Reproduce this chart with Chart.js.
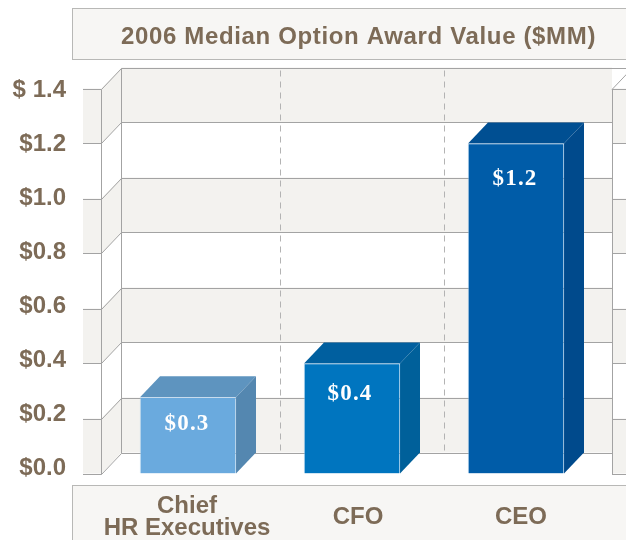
<!DOCTYPE html>
<html>
<head>
<meta charset="utf-8">
<style>
  html, body { margin: 0; padding: 0; background: #fff; }
  #wrap { width: 626px; height: 540px; }
</style>
<script src="https://cdn.jsdelivr.net/npm/chart.js@4"></script>
</head>
<body>
<div id="wrap"><canvas id="optionChart"></canvas></div>
<script>
const chartTitle = "2006 Median Option Award Value ($MM)";
const categories = [["Chief", "HR Executives"], "CFO", "CEO"];
const medianValues = [0.277, 0.4, 1.2];
const valueLabels = ["$0.3", "$0.4", "$1.2"];
const yTickValues = [0, 0.2, 0.4, 0.6, 0.8, 1.0, 1.2, 1.4];
const yTickLabels = ["$0.0", "$0.2", "$0.4", "$0.6", "$0.8", "$1.0", "$1.2", "$ 1.4"];
const frontColors = ["#6aaade", "#0075bf", "#005ca8"];
const topColors = ["#5e94bf", "#005f9f", "#004f92"];
const sideColors = ["#5487b0", "#00609a", "#004a8c"];

const depthX = 20;
const depthY = 21;
const wallRight = 612;
const textColor = "#7d6b57";
const lineColor = "#a3a3a3";
const bandColor = "#f3f2ef";
const panelColor = "#f7f6f4";
const sansBold = "bold 24px 'Liberation Sans', Arial, sans-serif";
// the captions and bar labels are not placed evenly in the original
const captionShift = [-1, 6, 5];
const labelShiftX = [-1, -2, -1];
const labelDrop = [33, 36, 41];

function poly(ctx, pts, fill) {
  ctx.beginPath();
  pts.forEach((p, i) => (i ? ctx.lineTo(p[0], p[1]) : ctx.moveTo(p[0], p[1])));
  ctx.closePath();
  ctx.fillStyle = fill;
  ctx.fill();
}

function seg(ctx, x0, y0, x1, y1) {
  ctx.beginPath();
  ctx.moveTo(x0, y0);
  ctx.lineTo(x1, y1);
  ctx.stroke();
}

const panelsPlugin = {
  id: "panels",
  afterLayout(chart) {
    chart.scales.x.getLabelItems(chart.chartArea).forEach((item, i) => {
      item.options.translation[0] += captionShift[i];
    });
  },
  beforeDraw(chart) {
    const ctx = chart.ctx;
    ctx.save();
    ctx.strokeStyle = "#b8b8b6";
    ctx.lineWidth = 1;
    ctx.fillStyle = panelColor;
    ctx.fillRect(72.5, 8.5, 560, 51);
    ctx.strokeRect(72.5, 8.5, 560, 51);
    ctx.fillRect(72.5, 485.5, 560, 70);
    ctx.strokeRect(72.5, 485.5, 560, 70);
    ctx.fillStyle = textColor;
    ctx.font = sansBold;
    ctx.textAlign = "center";
    ctx.textBaseline = "alphabetic";
    ctx.letterSpacing = "0.65px";
    ctx.fillText(chartTitle, 358.5, 44);
    ctx.restore();
  }
};

const wallsPlugin = {
  id: "walls",
  beforeDatasetsDraw(chart) {
    const ctx = chart.ctx;
    const y = chart.scales.y;
    const x = chart.scales.x;
    const frontLeft = 101.5;
    const backLeft = frontLeft + depthX;
    ctx.save();
    ctx.lineWidth = 1;

    // alternating bands: back wall, left wall, tick stubs, right wall
    for (let i = 0; i < yTickValues.length - 1; i += 2) {
      const top = y.getPixelForValue(yTickValues[yTickValues.length - 1 - i]);
      const bot = y.getPixelForValue(yTickValues[yTickValues.length - 2 - i]);
      ctx.fillStyle = bandColor;
      ctx.fillRect(backLeft, top - depthY, wallRight - backLeft, bot - top);
      ctx.fillRect(83, top, frontLeft - 83, bot - top);
      ctx.fillRect(wallRight, top, 20, bot - top);
      poly(ctx, [[frontLeft, top], [backLeft, top - depthY], [backLeft, bot - depthY], [frontLeft, bot]], bandColor);
    }

    ctx.strokeStyle = lineColor;
    yTickValues.forEach((v) => {
      const py = Math.round(y.getPixelForValue(v)) + 0.5;
      seg(ctx, frontLeft, py, backLeft, py - depthY);
      seg(ctx, backLeft, py - depthY, v === 1.4 ? 626 : wallRight, py - depthY);
      seg(ctx, 83, py, frontLeft, py);
      seg(ctx, wallRight, py, 626, py);
      if (v === 1.4) seg(ctx, wallRight, py, wallRight + depthX, py - depthY);
    });
    const yTop = Math.round(y.getPixelForValue(1.4)) + 0.5;
    const yBot = Math.round(y.getPixelForValue(0)) + 0.5;
    seg(ctx, frontLeft, yTop, frontLeft, yBot);
    seg(ctx, backLeft, yTop - depthY, backLeft, yBot - depthY);
    seg(ctx, wallRight + 0.5, yTop, wallRight + 0.5, yBot);

    // dashed dividers on the back wall
    ctx.strokeStyle = "#b3b3b3";
    ctx.setLineDash([6, 5]);
    [0.5, 1.5].forEach((v) => {
      const px = Math.round(x.getPixelForValue(v) + depthX / 2) + 0.5;
      seg(ctx, px, yTop - depthY + 2, px, yBot - depthY);
    });
    ctx.setLineDash([]);

    // top and side faces of the bars
    chart.getDatasetMeta(0).data.forEach((bar, i) => {
      const p = bar.getProps(["x", "y", "base", "width"], true);
      const l = p.x - p.width / 2;
      const r = p.x + p.width / 2;
      poly(ctx, [[l, p.y], [l + depthX, p.y - depthY], [r + depthX, p.y - depthY], [r, p.y]], topColors[i]);
      poly(ctx, [[r, p.y], [r + depthX, p.y - depthY], [r + depthX, p.base - depthY], [r, p.base]], sideColors[i]);
    });
    ctx.restore();
  }
};

const barLabelsPlugin = {
  id: "barLabels",
  afterDatasetsDraw(chart) {
    const ctx = chart.ctx;
    ctx.save();
    ctx.fillStyle = "#ffffff";
    ctx.font = "bold 23px 'Liberation Serif', 'Times New Roman', serif";
    ctx.textAlign = "center";
    ctx.textBaseline = "alphabetic";
    ctx.letterSpacing = "1.2px";
    chart.getDatasetMeta(0).data.forEach((bar, i) => {
      ctx.fillText(valueLabels[i], bar.x + labelShiftX[i], bar.y + labelDrop[i]);
    });
    ctx.restore();
  }
};

new Chart(document.getElementById("optionChart").getContext("2d"), {
  type: "bar",
  plugins: [panelsPlugin, wallsPlugin, barLabelsPlugin],
  data: {
    labels: categories,
    datasets: [{
      data: medianValues,
      backgroundColor: frontColors,
      borderColor: "rgba(190, 220, 245, 0.45)",
      borderWidth: 1,
      barThickness: 96
    }]
  },
  options: {
    responsive: true,
    maintainAspectRatio: false,
    animation: false,
    layout: { padding: { top: 88.5, right: 28, left: 0, bottom: 0 } },
    plugins: { legend: { display: false }, title: { display: false }, tooltip: { enabled: false } },
    scales: {
      x: {
        grid: { display: false, drawTicks: false },
        border: { display: false },
        afterFit: (s) => { s.height = 66.5; },
        ticks: {
          color: textColor,
          font: { family: "'Liberation Sans', Arial, sans-serif", size: 24, weight: "bold", lineHeight: 0.92 },
          padding: 33,
          maxRotation: 0,
          autoSkip: false,
          crossAlign: "center"
        }
      },
      y: {
        display: false,
        min: 0,
        max: 1.4
      },
      // tick text sits on a slightly tighter spacing than the gridlines
      yLabels: {
        position: "left",
        min: -0.0204,
        max: 1.4055,
        grid: { display: false, drawTicks: false },
        border: { display: false },
        afterFit: (s) => { s.width = 106; },
        afterBuildTicks: (s) => { s.ticks = yTickValues.map((value) => ({ value })); },
        ticks: {
          color: textColor,
          font: { family: "'Liberation Sans', Arial, sans-serif", size: 24, weight: "bold" },
          padding: 40,
          callback: (value) => yTickLabels[yTickValues.indexOf(value)]
        }
      }
    }
  }
});
</script>
</body>
</html>
